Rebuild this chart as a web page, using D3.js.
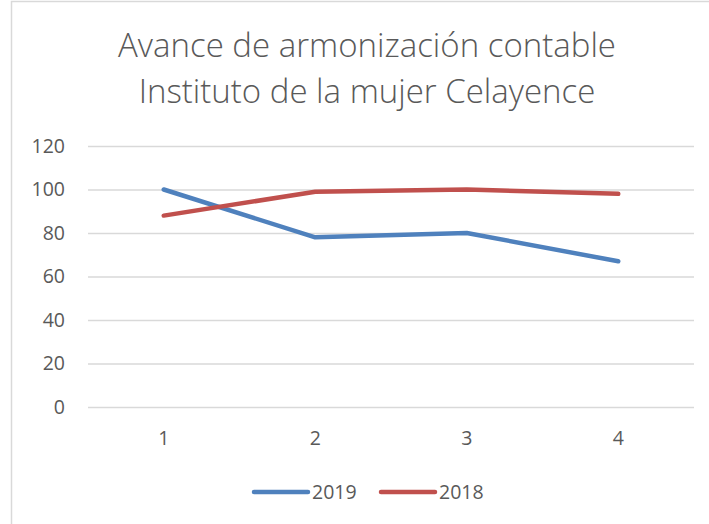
<!DOCTYPE html>
<html>
<head>
<meta charset="utf-8">
<script src="https://cdn.jsdelivr.net/npm/d3@7"></script>
<style>
  body { margin: 0; background: #fff; }
  text { font-family: 'Open Sans', 'Noto Sans', sans-serif; fill: #595959; }
</style>
</head>
<body>
<div id="chart"></div>
<script>
const categories = ['1', '2', '3', '4']
const values2019 = [100, 78, 80, 67]
const values2018 = [88, 99, 100, 98]
const yTicks = [0, 20, 40, 60, 80, 100, 120]
const titleLines = ['Avance de armonización contable', 'Instituto de la mujer Celayence']

const series = [
  { name: '2019', values: values2019, color: '#4F81BD' },
  { name: '2018', values: values2018, color: '#C0504D' }
]

const W = 709, H = 524
const plot = { left: 88, right: 694, top: 146, bottom: 407 }

const svg = d3.select('#chart').append('svg')
  .attr('width', W)
  .attr('height', H)

// chart border (left and top visible)
svg.append('path')
  .attr('d', `M11.5,${H} V1.5 H${W}`)
  .attr('fill', 'none')
  .attr('stroke', '#d9d9d9')
  .attr('stroke-width', 1.5)

svg.append('g').selectAll('text')
  .data(titleLines)
  .enter()
  .append('text')
  .attr('x', 367)
  .attr('y', (d, i) => 57 + i * 46)
  .attr('text-anchor', 'middle')
  .attr('font-size', 33)
  .attr('font-weight', 300)
  .text(d => d)

const x = d3.scaleBand().domain(categories).range([plot.left, plot.right])
const y = d3.scaleLinear().domain([0, 120]).range([plot.bottom, plot.top])

// gridlines
svg.append('g')
  .attr('transform', `translate(${plot.left},0)`)
  .call(d3.axisLeft(y).tickValues(yTicks).tickSize(-(plot.right - plot.left)).tickFormat(''))
  .call(g => g.select('.domain').remove())
  .call(g => g.selectAll('line').attr('stroke', '#d9d9d9').attr('stroke-width', 1.3))

// y labels
svg.append('g')
  .attr('transform', `translate(${plot.left},0)`)
  .call(d3.axisLeft(y).tickValues(yTicks).tickSize(0).tickPadding(23))
  .call(g => g.select('.domain').remove())
  .call(g => g.selectAll('text').attr('font-size', 19.5).style('fill', '#595959'))

// x labels
svg.append('g')
  .attr('transform', `translate(0,${plot.bottom})`)
  .call(d3.axisBottom(x).tickSize(0).tickPadding(24))
  .call(g => g.select('.domain').remove())
  .call(g => g.selectAll('text').attr('font-size', 19.5).style('fill', '#595959'))

const line = d3.line()
  .x((d, i) => x(categories[i]) + x.bandwidth() / 2)
  .y(d => y(d))

svg.append('g').selectAll('path')
  .data(series)
  .enter()
  .append('path')
  .attr('d', d => line(d.values))
  .attr('fill', 'none')
  .attr('stroke', d => d.color)
  .attr('stroke-width', 4.5)
  .attr('stroke-linecap', 'round')
  .attr('stroke-linejoin', 'round')

// legend
const legend = svg.append('g')
  .selectAll('g')
  .data(series)
  .enter()
  .append('g')
  .attr('transform', (d, i) => `translate(${254 + i * 127},492)`)
legend.append('line')
  .attr('x1', 0).attr('x2', 54)
  .attr('stroke', d => d.color)
  .attr('stroke-width', 4.5)
  .attr('stroke-linecap', 'round')
legend.append('text')
  .attr('x', 58)
  .attr('y', 7)
  .attr('font-size', 19.5)
  .text(d => d.name)
</script>
</body>
</html>
